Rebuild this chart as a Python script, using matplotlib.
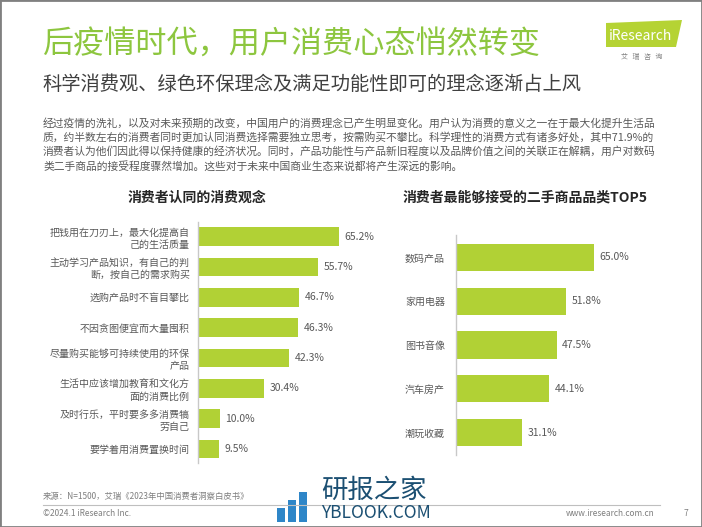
import matplotlib.pyplot as plt
from matplotlib.patches import Rectangle, Polygon

plt.rcParams['font.family'] = ['Noto Sans CJK SC', 'DejaVu Sans']

left_labels = [
    "把钱用在刀刃上，最大化提高自\n己的生活质量",
    "主动学习产品知识，有自己的判\n断，按自己的需求购买",
    "选购产品时不盲目攀比",
    "不因贪图便宜而大量囤积",
    "尽量购买能够可持续使用的环保\n产品",
    "生活中应该增加教育和文化方\n面的消费比例",
    "及时行乐，平时要多多消费犒\n劳自己",
    "要学着用消费置换时间",
]
left_values = [65.2, 55.7, 46.7, 46.3, 42.3, 30.4, 10.0, 9.5]

right_labels = ["数码产品", "家用电器", "图书音像", "汽车房产", "潮玩收藏"]
right_values = [65.0, 51.8, 47.5, 44.1, 31.1]

title = "后疫情时代，用户消费心态悄然转变"
subtitle = "科学消费观、绿色环保理念及满足功能性即可的理念逐渐占上风"
paragraph = [
    "经过疫情的洗礼，以及对未来预期的改变，中国用户的消费理念已产生明显变化。用户认为消费的意义之一在于最大化提升生活品",
    "质，约半数左右的消费者同时更加认同消费选择需要独立思考，按需购买不攀比。科学理性的消费方式有诸多好处，其中71.9%的",
    "消费者认为他们因此得以保持健康的经济状况。同时，产品功能性与产品新旧程度以及品牌价值之间的关联正在解耦，用户对数码",
    "类二手商品的接受程度骤然增加。这些对于未来中国商业生态来说都将产生深远的影响。",
]

W, H = 702, 527
BAR = '#B1D135'
GREEN = '#8DC63F'
GRAY = '#595959'

fig = plt.figure(figsize=(W / 100, H / 100), dpi=100)


def fx(x):
    return x / W


def fy(y):
    return 1 - y / H


# header
fig.text(fx(42), fy(45), title, fontsize=22.4, color=GREEN, va='center', ha='left')
fig.text(fx(42), fy(84), subtitle, fontsize=13.9, color='#404040', va='center', ha='left')
for i, line in enumerate(paragraph):
    fig.text(fx(43), fy(123 + i * 14.3), line, fontsize=7.75, color=GRAY, va='center', ha='left')

# iResearch logo
fig.patches.append(Polygon([[fx(606), fy(23)], [fx(682), fy(20)], [fx(676), fy(47)], [fx(606), fy(47)]],
                           closed=True, transform=fig.transFigure, facecolor='#B5D334', edgecolor='none'))
fig.text(fx(641), fy(36), "iResearch", fontsize=10, color='white', ha='center', va='center')
fig.text(fx(642), fy(57), "艾   瑞   咨   询", fontsize=5, color='#808080', ha='center', va='center')


def bar_panel(rect, labels, values, xmax, ylim, pad):
    ax = fig.add_axes(rect)
    pos = range(len(values))
    ax.barh(pos, values, height=0.62, color=BAR)
    ax.set_xlim(0, xmax)
    ax.set_ylim(*ylim)
    ax.set_yticks(list(pos))
    ax.set_yticklabels(labels, fontsize=7.2, color=GRAY, linespacing=1.3)
    ax.tick_params(axis='y', length=0, pad=pad)
    ax.set_xticks([])
    for s in ['top', 'right', 'bottom']:
        ax.spines[s].set_visible(False)
    ax.spines['left'].set_color('#C8C8C8')
    ax.spines['left'].set_linewidth(1)
    ax.patch.set_alpha(0)
    for p, v in zip(pos, values):
        ax.annotate(f"{v:.1f}%", (v, p), xytext=(4, 0), textcoords='offset points',
                    fontsize=7.5, color=GRAY, va='center', ha='left')
    return ax


# left chart
fig.text(fx(197), fy(198), "消费者认同的消费观念", fontsize=10, fontweight='bold', color='#262626',
         ha='center', va='center')
bar_panel([fx(198), fy(463), 160 / W, 241 / H], left_labels, left_values,
          160 / 2.163, (7.46, -0.48), 6)

# right chart
fig.text(fx(525), fy(198), "消费者最能够接受的二手商品品类TOP5", fontsize=10, fontweight='bold',
         color='#262626', ha='center', va='center')
bar_panel([fx(456), fy(455), 160 / W, 220 / H], right_labels, right_values,
          160 / 2.12, (4.514, -0.514), 8)

# footer
fig.text(fx(43), fy(496), "来源：N=1500，艾瑞《2023年中国消费者洞察白皮书》", fontsize=6, color='#7F7F7F',
         ha='left', va='center')
fig.lines.append(plt.Line2D([fx(43), fx(660)], [fy(505), fy(505)], transform=fig.transFigure,
                            color='#BFBFBF', linewidth=0.8))
fig.text(fx(43), fy(513), "©2024.1 iResearch Inc.", fontsize=6, color='#7F7F7F', ha='left', va='center')
fig.text(fx(655), fy(513), "www.iresearch.com.cn", fontsize=6, color='#7F7F7F', ha='right', va='center')
fig.text(fx(686), fy(513), "7", fontsize=6, color='#7F7F7F', ha='center', va='center')

# watermark
for i, h in enumerate([14, 22, 30]):
    fig.patches.append(Rectangle((fx(277 + i * 11), fy(522)), 8 / W, h / H, transform=fig.transFigure,
                                 facecolor='#2E86C8', edgecolor='none'))
fig.text(fx(321), fy(490), "研报之家", fontsize=19, color='#1B4F72', ha='left', va='center')
fig.text(fx(321), fy(513), "YBLOOK.COM", fontsize=12.5, color='#1B4F72', ha='left', va='center')

# slide frame
fig.patches.append(Rectangle((0, 0), 1, 1, transform=fig.transFigure, facecolor='none',
                             edgecolor='#808080', linewidth=2))

fig.savefig('out.png', dpi=100)
